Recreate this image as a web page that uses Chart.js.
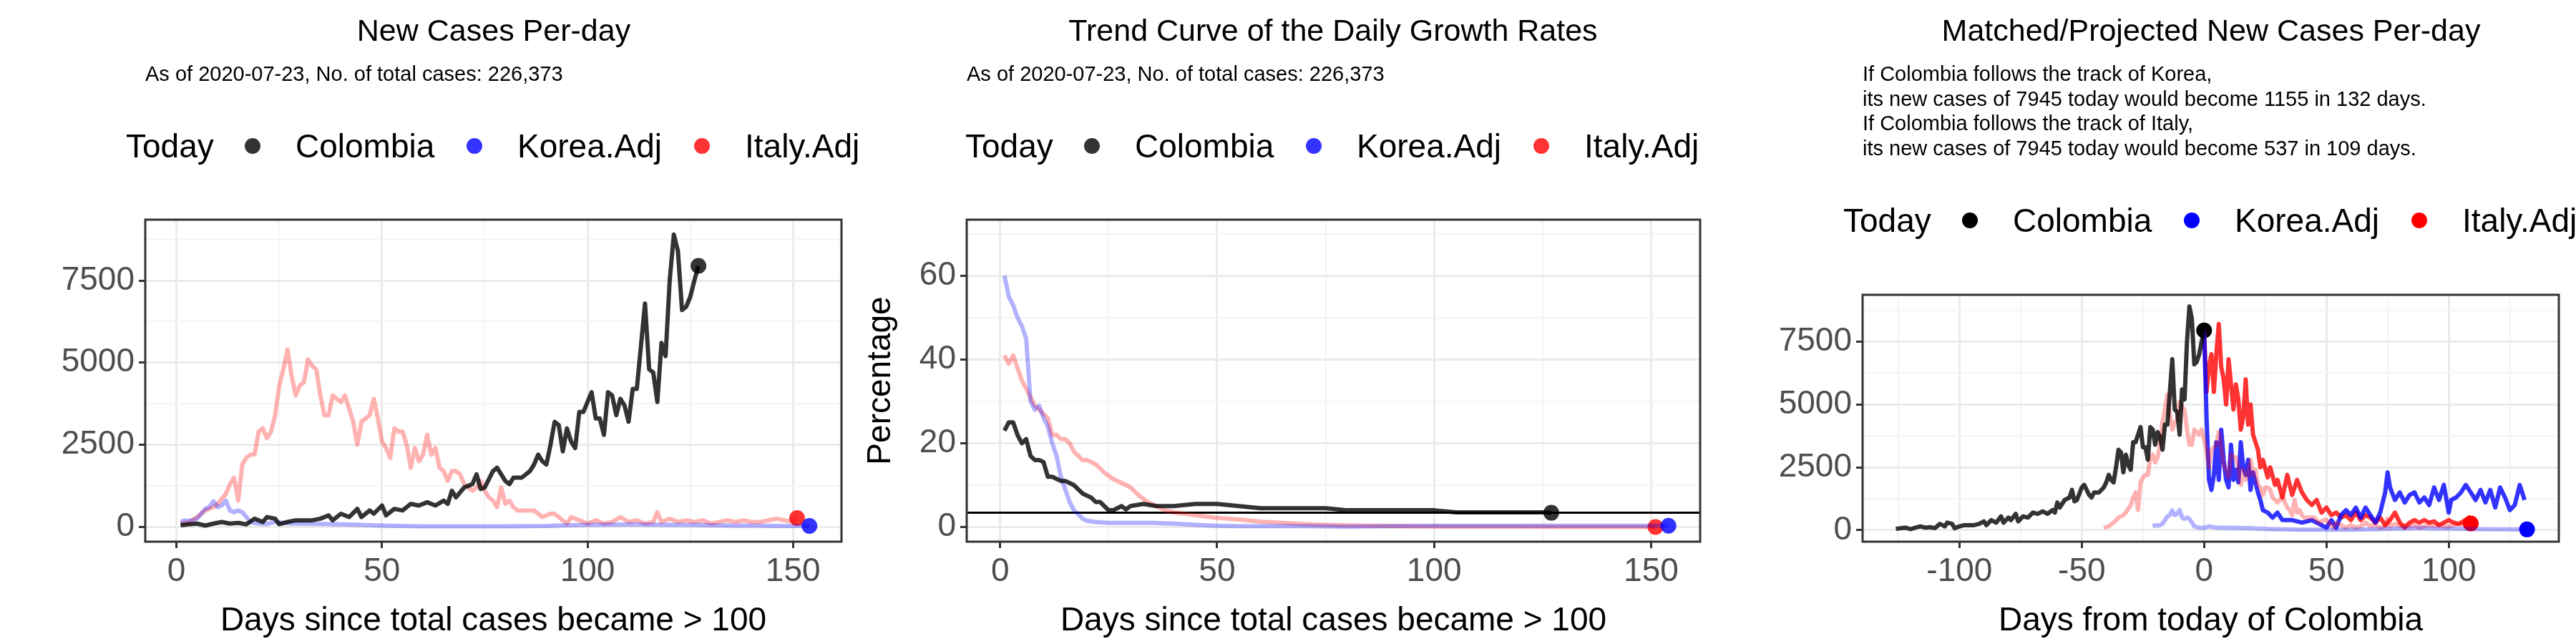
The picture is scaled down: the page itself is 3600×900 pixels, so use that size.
<!DOCTYPE html>
<html>
<head>
<meta charset="utf-8">
<script src="https://cdn.jsdelivr.net/npm/chart.js@4.4.1/dist/chart.umd.min.js"></script>
<style>
  body { margin: 0; background: #fff; font-family: "Liberation Sans", Arial, sans-serif; }
  #wrap { position: relative; width: 3600px; height: 900px; overflow: hidden; }
  canvas { position: absolute; top: 0; }
  .t { position: absolute; white-space: nowrap; color: #000; }
  .title { font-size: 43px; transform: translateX(-50%); top: 18px; }
  .sub { font-size: 29px; line-height: 34.5px; }
  .leg { font-size: 46px; }
  .dot { position: absolute; width: 22px; height: 22px; border-radius: 50%; }
</style>
</head>
<body>
<div id="wrap">
  <canvas id="c1" width="1200" height="900" style="left:0"></canvas>
  <canvas id="c2" width="1200" height="900" style="left:1200px"></canvas>
  <canvas id="c3" width="1200" height="900" style="left:2400px"></canvas>
</div>
<script>
// ---- data ----
var subtitle = 'As of 2020-07-23, No. of total cases: 226,373';
var projText = [
  'If Colombia follows the track of Korea,',
  'its new cases of 7945 today would become 1155 in 132 days.',
  'If Colombia follows the track of Italy,',
  'its new cases of 7945 today would become 537 in 109 days.'
];
var legendNames = ['Colombia', 'Korea.Adj', 'Italy.Adj'];

// new cases per day, Colombia
var colDays = [1,3,5,7,9,11,13,15,17,19,21,22,24,25,27,29,31,33,35,37,38,40,42,44,45,47,48,50,51,53,55,57,59,61,63,65,66,67,68,70,72,73,74,75,77,78,80,81,82,84,86,87,88,89,90,91,92,93,94,95,96,97,98,99,100,101,102,103,104,105,106,107,108,109,110,111,112,113,114,115,116,117,118,119,120,121,122,123,124,125,126,127];
var colCases = [50,80,100,40,100,150,100,120,80,250,150,300,250,80,150,200,200,200,250,350,200,400,300,550,300,500,400,650,350,550,500,700,650,750,650,800,700,1100,900,1200,1300,1600,1150,1200,1700,1800,1400,1300,1500,1500,1700,1900,2200,2000,1900,2500,3200,3100,2300,3000,2600,2400,3500,3500,3800,4100,3300,3300,2800,4100,4000,3400,3900,3700,3200,4200,4200,5500,6800,4800,4700,3800,5600,5200,7500,8900,8400,6600,6700,7000,7500,7945];

var korDays = [1,2,3,4,5,6,7,8,9,10,11,12,13,14,15,16,17,18,19,20,22,24,26,28,30,35,40,45,50,55,60,70,80,90,95,100,105,110,115,120,125,130,135,140,145,150,154];
var korCases = [150,200,180,200,250,400,550,600,780,600,650,800,500,450,500,450,300,150,120,100,90,150,120,100,100,90,80,60,40,30,20,20,20,30,50,60,70,80,70,60,60,50,40,40,30,30,30];

var itaDays = [1,3,5,7,9,10,12,13,14,15,16,17,18,19,20,21,22,23,24,25,26,27,28,29,30,31,32,33,34,35,36,37,38,39,40,41,42,43,44,45,46,47,48,49,50,51,52,53,54,55,56,57,58,59,60,61,62,63,64,65,66,67,68,69,70,71,72,73,74,75,76,77,78,79,80,81,82,83,85,87,89,91,92,93,95,96,98,100,102,104,106,108,110,112,114,116,117,118,120,122,124,126,128,130,132,134,136,138,140,142,144,146,148,150,151];
var itaCases = [100,150,300,500,600,700,1000,1300,1500,800,1900,2100,2200,2200,2900,3000,2700,2900,3400,4300,4800,5400,4600,4000,4300,4400,5100,4900,4800,4000,3400,3400,4000,3900,3800,4000,3600,3200,2500,3200,3300,3400,3900,3300,2600,2400,2100,3000,2900,2900,2500,1800,2400,2000,2200,2800,2200,2400,1800,1700,1400,1700,1700,1600,1300,1200,1100,1200,1400,1100,900,800,600,1200,700,800,600,500,500,500,300,400,400,300,100,300,200,100,200,100,150,300,150,200,100,150,450,150,250,150,200,150,200,100,150,200,150,200,150,150,200,250,200,150,270];

// daily growth rate (%)
var colGDays = [1,2,3,4,5,6,7,8,9,10,11,12,13,14,15,16,17,18,19,20,21,22,23,24,25,26,27,28,29,30,33,36,40,45,50,55,60,65,70,75,80,85,90,95,100,105,110,115,120,125,127];
var colGrowth = [23,25,25,22,20,21,17,16,16,15.5,12,12,11.5,11,11,10.5,10,9,8,7.5,7,6,6,5,4,4,4.5,5,4.2,5,5.5,5,5,5.5,5.5,5,4.5,4.5,4.5,4.5,4,4,4,4,4,3.5,3.5,3.5,3.5,3.5,3.4];
var korGDays = [1,2,3,4,5,6,7,8,9,10,11,12,13,14,15,16,17,18,19,20,22,25,30,35,40,45,50,55,60,70,80,90,100,110,120,130,140,150,154];
var korGrowth = [60,55,53,50,48,45,30,28,29,26,24,20,17,12,9,6,4,3,2,1.5,1.2,1,1,1,0.8,0.5,0.3,0.2,0.2,0.2,0.1,0.2,0.3,0.3,0.3,0.3,0.3,0.3,0.3];
var itaGDays = [1,2,3,4,5,6,7,8,9,10,11,12,13,14,15,16,17,18,19,20,21,22,24,26,28,30,32,34,36,38,40,45,50,55,60,65,70,75,80,90,100,110,120,130,140,151];
var itaGrowth = [41,39,41,38,35,33,31,29,28,27,26,22,22,21,21,20,18,17,16,16,15.5,15,13,11.5,10.5,9.5,7.5,6,5,4,3.5,2.8,2.2,1.8,1.3,1,0.7,0.5,0.4,0.2,0.1,0.1,0.1,0,0,0];
var refRate = 3.44;

// matched/projected (days from today of Colombia)
var colShift = -127, korShift = -22, itaShift = -42;
var korProjDays = [0,1,2,3,4,5,6,7,8,9,10,11,12,13,14,15,16,17,18,19,20,22,23,24,26,28,30,32,36,40,44,48,50,52,54,56,58,60,62,64,66,68,70,72,74,75,76,78,80,82,84,86,88,90,92,94,96,98,100,101,103,105,107,109,111,113,115,117,119,121,123,125,127,129,131];
var korProj = [7945,4500,2000,1600,2200,3500,2000,4000,2800,2000,1700,3400,2000,2400,1900,3500,2500,2200,2800,1600,2300,1500,1200,800,700,500,700,400,400,300,400,200,100,400,100,600,800,600,900,500,900,600,300,700,1500,2300,1700,1200,1500,1100,1400,1500,1100,1300,1000,1700,1200,1800,700,1200,1300,1500,1800,1500,1200,1600,1100,1600,900,1700,1300,800,1000,1800,1200];
var itaProjDays = [0,1,2,3,4,5,6,7,8,9,10,11,12,13,14,15,16,17,18,19,20,22,23,24,26,27,29,30,32,34,36,38,40,42,44,46,48,50,52,54,56,58,60,62,64,66,68,70,72,74,76,78,80,82,84,86,88,90,92,94,96,98,100,102,104,106,109];
var itaProj = [7945,5500,6500,7000,5500,7000,8200,6500,6000,5000,6800,5800,4800,5800,5200,4000,4500,6000,4200,5000,3800,3200,2500,2800,2100,2500,1800,2000,1300,2200,1400,2000,1500,1200,1000,1200,700,900,600,700,500,600,400,700,400,600,500,300,500,200,400,700,300,100,300,400,300,400,300,350,200,300,400,300,250,350,537];

// ---- helpers ----
var INK = 'rgba(0,0,0,0.8)', BLUE_F = 'rgba(0,0,255,0.3)', RED_F = 'rgba(255,0,0,0.3)';
var BLUE = 'rgba(0,0,255,0.8)', RED = 'rgba(255,0,0,0.8)';
var FONT = '"Liberation Sans", Arial, sans-serif';

function pts(days, vals, shift) {
  return days.map(function(d, i) { return { x: d + (shift || 0), y: vals[i] }; });
}
function lastPt(days, vals, shift) {
  var i = days.length - 1;
  return [{ x: days[i] + (shift || 0), y: vals[i] }];
}
function line(data, color, w) {
  return { type: 'line', data: data, borderColor: color, borderWidth: w || 6, pointRadius: 0, fill: false, tension: 0, borderJoinStyle: 'round' };
}
function dot(data, color) {
  return { type: 'scatter', data: data, backgroundColor: color, borderColor: color, pointRadius: 11, borderWidth: 0 };
}

var borderPlugin = {
  id: 'panelBorder',
  afterDraw: function(chart) {
    var a = chart.chartArea, ctx = chart.ctx;
    ctx.save();
    ctx.strokeStyle = '#333';
    ctx.lineWidth = 3;
    ctx.strokeRect(a.left, a.top, a.right - a.left, a.bottom - a.top);
    ctx.restore();
  }
};

function axis(min, max, majors, minors, size, title) {
  var all = majors.concat(minors).sort(function(a, b) { return a - b; });
  return {
    type: 'linear', min: min, max: max,
    afterBuildTicks: function(s) { s.ticks = all.map(function(v) { return { value: v }; }); },
    afterFit: function(s) { if (s.isHorizontal()) s.height = size; else s.width = size; },
    ticks: {
      autoSkip: false, maxRotation: 0, color: '#4d4d4d', padding: 6,
      font: { family: FONT, size: 46 },
      callback: function(v) { return majors.indexOf(v) >= 0 ? String(v) : ''; }
    },
    grid: {
      color: function(c) { return majors.indexOf(c.tick.value) >= 0 ? '#ebebeb' : '#f4f4f4'; },
      lineWidth: function(c) { return majors.indexOf(c.tick.value) >= 0 ? 3 : 2; },
      tickColor: function(c) { return majors.indexOf(c.tick.value) >= 0 ? '#333' : 'rgba(0,0,0,0)'; },
      tickLength: 9, drawTicks: true
    },
    border: { display: false },
    title: title ? { display: true, text: title, color: '#000', font: { family: FONT, size: 46 }, padding: 4 } : { display: false }
  };
}

function makeChart(id, datasets, xs, ys, pad) {
  return new Chart(document.getElementById(id), {
    data: { datasets: datasets },
    options: {
      responsive: false, animation: false, parsing: true,
      layout: { padding: pad },
      plugins: { legend: { display: false }, tooltip: { enabled: false } },
      scales: { x: xs, y: ys }
    },
    plugins: [borderPlugin]
  });
}

// ---- panel 1 ----
makeChart('c1', [
  line(pts(colDays, colCases), INK),
  line(pts(korDays, korCases), BLUE_F),
  line(pts(itaDays, itaCases), RED_F),
  dot(lastPt(colDays, colCases), INK),
  dot(lastPt(korDays, korCases), BLUE),
  dot(lastPt(itaDays, itaCases), RED)
], axis(-7.6, 161.8, [0, 50, 100, 150], [25, 75, 125], 143, 'Days since total cases became > 100'),
   axis(-450, 9352, [0, 2500, 5000, 7500], [1250, 3750, 6250, 8750], 203, null),
   { top: 307, right: 24, left: 0, bottom: 0 });

// ---- panel 2 ----
makeChart('c2', [
  line(pts(colGDays, colGrowth), INK),
  line(pts(korGDays, korGrowth), BLUE_F),
  line(pts(itaGDays, itaGrowth), RED_F),
  line([{ x: -7.7, y: refRate }, { x: 161.3, y: refRate }], '#000', 3),
  dot(lastPt(colGDays, colGrowth), INK),
  dot(lastPt(korGDays, korGrowth), BLUE),
  dot(lastPt(itaGDays, itaGrowth), RED)
], axis(-7.7, 161.3, [0, 50, 100, 150], [25, 75, 125], 143, 'Days since total cases became > 100'),
   axis(-3.5, 73.4, [0, 20, 40, 60], [10, 30, 50, 70], 151, 'Percentage'),
   { top: 307, right: 24, left: 0, bottom: 0 });

// ---- panel 3 ----
makeChart('c3', [
  line(pts(colDays, colCases, colShift), INK),
  line(pts(korDays, korCases, korShift), BLUE_F),
  line(pts(itaDays, itaCases, itaShift), RED_F),
  line(pts(korProjDays, korProj), BLUE),
  line(pts(itaProjDays, itaProj), RED),
  dot(lastPt(colDays, colCases, colShift), '#000'),
  dot(lastPt(korDays, korCases, korShift), '#00f'),
  dot(lastPt(itaDays, itaCases, itaShift), '#f00')
], axis(-139.6, 145, [-100, -50, 0, 50, 100], [-125, -75, -25, 25, 75, 125], 143, 'Days from today of Colombia'),
   axis(-458, 9363, [0, 2500, 5000, 7500], [1250, 3750, 6250, 8750], 203, null),
   { top: 412, right: 24, left: 0, bottom: 0 });

// ---- titles, subtitles and legends ----
var wrap = document.getElementById('wrap');
function addText(cls, txt, left, top) {
  var d = document.createElement('div');
  d.className = 't ' + cls;
  d.textContent = txt;
  d.style.left = left + 'px';
  if (top != null) d.style.top = top + 'px';
  wrap.appendChild(d);
}
function addLegend(x0, yc, colors) {
  var offs = [237, 547, 865];   // label left edges relative to "Today"
  addText('leg', 'Today', x0, yc - 27);
  for (var i = 0; i < 3; i++) {
    var dd = document.createElement('div');
    dd.className = 'dot';
    dd.style.background = colors[i];
    dd.style.left = (x0 + offs[i] - 71) + 'px';
    dd.style.top = (yc - 11) + 'px';
    wrap.appendChild(dd);
    addText('leg', legendNames[i], x0 + offs[i], yc - 27);
  }
}

addText('title', 'New Cases Per-day', 690);
addText('title', 'Trend Curve of the Daily Growth Rates', 1863);
addText('title', 'Matched/Projected New Cases Per-day', 3090);
addText('sub', subtitle, 203, 86);
addText('sub', subtitle, 1351, 86);
projText.forEach(function(s, i) { addText('sub', s, 2603, 86 + i * 34.5); });

addLegend(176, 204, [INK, 'rgba(0,0,255,0.8)', 'rgba(255,0,0,0.8)']);
addLegend(1349, 204, [INK, 'rgba(0,0,255,0.8)', 'rgba(255,0,0,0.8)']);
addLegend(2576, 308, ['#000', '#00f', '#f00']);
</script>
</body>
</html>
